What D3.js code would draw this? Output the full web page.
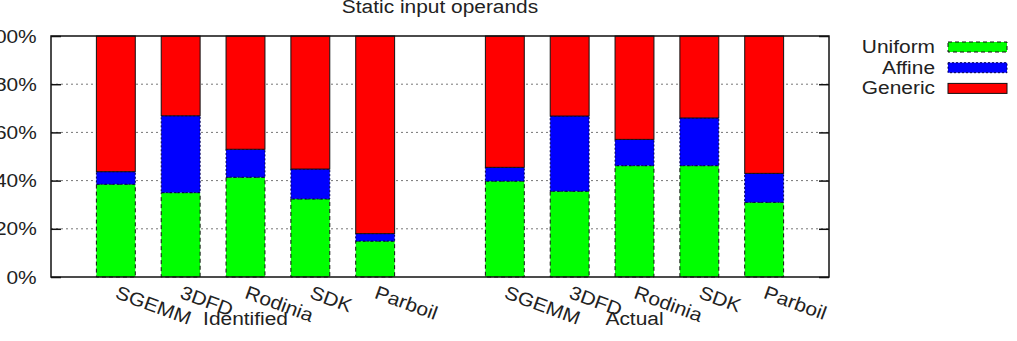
<!DOCTYPE html>
<html>
<head>
<meta charset="utf-8">
<script src="https://cdn.jsdelivr.net/npm/d3@7"></script>
<style>
  body { margin: 0; background: #fff; }
  text { font-family: "Liberation Sans", Arial, sans-serif; fill: #222; }
</style>
</head>
<body>
<svg id="chart" width="1017" height="341"></svg>
<script>
// benchmarks in each group, positions on the histogram axis
const benchmarks = ['SGEMM', '3DFD', 'Rodinia', 'SDK', 'Parboil'];
const groups = ['Identified', 'Actual'];
const groupStart = [0, 6];

// percentages, Identified then Actual
const uniform = [38.5, 35.0, 41.4, 32.4, 14.9, 39.8, 35.6, 46.2, 46.2, 31.0];
const affine = [5.2, 31.9, 11.6, 12.4, 3.1, 5.7, 31.2, 10.9, 19.8, 12.0];
const generic = [56.3, 33.1, 47.0, 55.2, 82.0, 54.5, 33.2, 42.9, 34.0, 57.0];

const yTicks = [0, 20, 40, 60, 80, 100];

const margin = { left: 51, right: 188, top: 36, bottom: 64 };
const W = 1017, H = 341;
const sx = 1.1; // text in the original is a bit wide
const svg = d3.select('#chart');

const x = d3.scaleLinear().domain([-1, 11]).range([margin.left, W - margin.right]);
const y = d3.scaleLinear().domain([0, 100]).range([H - margin.bottom, margin.top]);
const slot = x(1) - x(0);
const barW = slot * 0.6;

// grid
svg.append('g')
  .selectAll('line')
  .data(yTicks.filter(d => d > 0 && d < 100))
  .enter().append('line')
  .attr('x1', x(-1)).attr('x2', x(11))
  .attr('y1', d => y(d)).attr('y2', d => y(d))
  .attr('stroke', '#777').attr('stroke-width', 1)
  .attr('stroke-dasharray', '2,3');

// build the stacked rows
const rows = [];
groups.forEach((g, gi) => {
  benchmarks.forEach((b, bi) => {
    const k = gi * benchmarks.length + bi;
    rows.push({ name: b, pos: groupStart[gi] + bi, uniform: uniform[k], affine: affine[k], generic: generic[k] });
  });
});

const series = [
  { key: 'uniform', label: 'Uniform', fill: '#00ff00', stroke: '#111', dash: '4,3' },
  { key: 'affine', label: 'Affine', fill: '#0000ff', stroke: '#000050', dash: '2,2' },
  { key: 'generic', label: 'Generic', fill: '#ff0000', stroke: '#111', dash: null }
];

const stack = d3.stack().keys(series.map(s => s.key))(rows);

stack.forEach((layer, li) => {
  const s = series[li];
  svg.append('g')
    .selectAll('rect')
    .data(layer)
    .enter().append('rect')
    .attr('x', d => x(d.data.pos) - barW / 2)
    .attr('width', barW)
    .attr('y', d => y(d[1]))
    .attr('height', d => y(d[0]) - y(d[1]))
    .attr('fill', s.fill)
    .attr('stroke', s.stroke)
    .attr('stroke-width', 1)
    .attr('stroke-dasharray', s.dash);
});

// frame
svg.append('rect')
  .attr('x', x(-1)).attr('y', y(100))
  .attr('width', x(11) - x(-1)).attr('height', y(0) - y(100))
  .attr('fill', 'none').attr('stroke', '#111').attr('stroke-width', 1.5);

// y axis, left and mirrored right
const yAxis = d3.axisLeft(y).tickValues(yTicks).tickSize(-10).tickPadding(13).tickFormat(d => d + '%');
const gy = svg.append('g').attr('transform', `translate(${x(-1)},0)`).call(yAxis);
gy.select('.domain').remove();
gy.selectAll('.tick line').attr('stroke', '#111').attr('stroke-width', 1.5);
gy.selectAll('.tick text').style('font-size', '19px').attr('fill', '#222')
  .attr('transform', `scale(${sx},1)`);

const yAxisR = d3.axisRight(y).tickValues(yTicks).tickSize(-10).tickFormat('');
const gyr = svg.append('g').attr('transform', `translate(${x(11)},0)`).call(yAxisR);
gyr.select('.domain').remove();
gyr.selectAll('.tick line').attr('stroke', '#111').attr('stroke-width', 1.5);

// rotated benchmark labels
svg.append('g')
  .selectAll('text')
  .data(rows)
  .enter().append('text')
  .attr('transform', d => `translate(${x(d.pos) + 3},${y(0) + 8}) rotate(20) scale(${sx},1)`)
  .attr('dy', '0.72em')
  .style('font-size', '19px')
  .text(d => d.name);

// group labels
svg.append('g')
  .selectAll('text')
  .data(groups)
  .enter().append('text')
  .attr('transform', (d, i) => `translate(${x(groupStart[i] + 2)},${y(0) + 48}) scale(${sx},1)`)
  .attr('text-anchor', 'middle')
  .style('font-size', '19px')
  .text(d => d);

// title
svg.append('text')
  .attr('transform', `translate(${x(5)},13) scale(${sx},1)`)
  .attr('text-anchor', 'middle')
  .style('font-size', '19px')
  .text('Static input operands');

// legend
const legend = svg.append('g')
  .selectAll('g')
  .data(series)
  .enter().append('g')
  .attr('transform', (d, i) => `translate(0,${42 + i * 20.7})`);

legend.append('text')
  .attr('transform', `translate(935,11) scale(${sx},1)`)
  .attr('text-anchor', 'end')
  .style('font-size', '19px')
  .text(d => d.label);

legend.append('rect')
  .attr('x', 948).attr('y', 0)
  .attr('width', 59).attr('height', 10)
  .attr('fill', d => d.fill)
  .attr('stroke', d => d.stroke)
  .attr('stroke-dasharray', d => d.dash);
</script>
</body>
</html>
